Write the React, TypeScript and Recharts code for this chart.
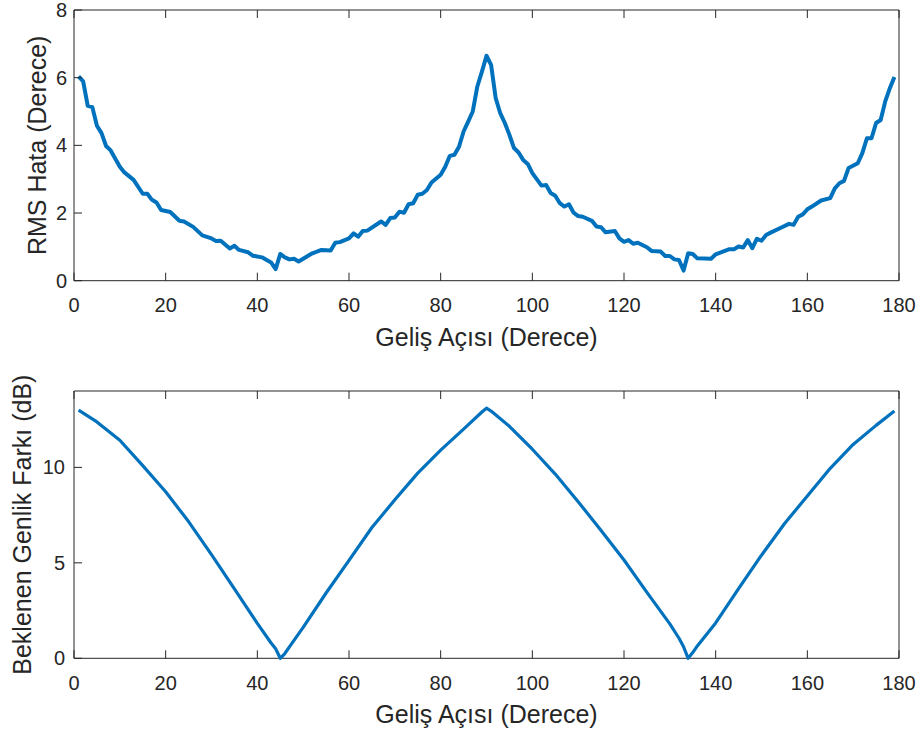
import React from "react";
import { Line, LineChart, ReferenceArea, XAxis, YAxis } from "recharts";

// incidence angles (deg) and RMS error (deg)
const rmsAngles = [
  1, 2, 3, 4, 5, 6, 7, 8, 10, 11, 13, 15, 16, 17, 18, 19, 21, 23, 24, 26, 28, 30,
  31, 32, 34, 35, 36, 38, 39, 41, 43, 44, 45, 46, 47, 48, 49, 51, 52, 54, 56, 57,
  58, 60, 61, 62, 63, 64, 67, 68, 69, 70, 71, 72, 73, 74, 75, 76, 77, 78, 80, 81,
  82, 83, 84, 85, 86, 87, 88, 89, 90, 91, 92, 93, 94, 95, 96, 97, 98, 99, 100,
  102, 103, 104, 105, 106, 107, 108, 109, 110, 111, 113, 114, 115, 116, 118, 119,
  120, 121, 122, 123, 125, 126, 128, 129, 130, 131, 132, 133, 134, 135, 136, 139,
  140, 141, 143, 144, 145, 146, 147, 148, 149, 150, 151, 152, 154, 156, 157, 158,
  159, 160, 161, 163, 165, 166, 167, 168, 169, 171, 172, 173, 174, 175, 176, 177,
  178, 179,
];
const rmsError = [
  6.04, 5.89, 5.17, 5.13, 4.58, 4.36, 3.98, 3.85, 3.37, 3.2, 2.98, 2.57, 2.57,
  2.39, 2.31, 2.09, 2.03, 1.77, 1.75, 1.59, 1.34, 1.25, 1.17, 1.18, 0.95, 1.03,
  0.91, 0.84, 0.74, 0.69, 0.54, 0.34, 0.79, 0.69, 0.63, 0.65, 0.57, 0.73, 0.81,
  0.91, 0.89, 1.12, 1.14, 1.25, 1.4, 1.3, 1.47, 1.48, 1.75, 1.65, 1.85, 1.87,
  2.04, 2.01, 2.26, 2.29, 2.54, 2.57, 2.68, 2.9, 3.13, 3.37, 3.69, 3.72, 3.96,
  4.41, 4.7, 5.0, 5.74, 6.18, 6.65, 6.38, 5.4, 4.95, 4.66, 4.31, 3.92, 3.79, 3.57,
  3.45, 3.18, 2.81, 2.83, 2.59, 2.51, 2.29, 2.19, 2.26, 2.01, 1.91, 1.89, 1.77,
  1.6, 1.58, 1.43, 1.47, 1.25, 1.15, 1.2, 1.09, 1.12, 0.99, 0.88, 0.86, 0.73,
  0.73, 0.63, 0.61, 0.3, 0.81, 0.79, 0.66, 0.65, 0.78, 0.83, 0.93, 0.93, 1.01,
  0.98, 1.2, 0.96, 1.24, 1.18, 1.35, 1.42, 1.55, 1.68, 1.65, 1.89, 1.96, 2.11,
  2.19, 2.37, 2.44, 2.73, 2.88, 2.95, 3.33, 3.47, 3.77, 4.21, 4.21, 4.66, 4.75,
  5.3, 5.69, 6.02,
];

// expected amplitude difference (dB)
const diffAngles = [
  1, 5, 10, 15, 20, 25, 30, 35, 40, 43, 44, 45, 46, 47, 50, 55, 60, 65, 70, 75,
  80, 85, 89, 90, 91, 95, 100, 105, 110, 115, 120, 125, 130, 132, 133, 134, 135,
  136, 140, 145, 150, 155, 160, 165, 170, 175, 179,
];
const diffDb = [
  13.0, 12.38, 11.42, 10.09, 8.72, 7.16, 5.43, 3.64, 1.83, 0.8, 0.5, 0, 0.25,
  0.6, 1.62, 3.42, 5.13, 6.85, 8.3, 9.7, 10.9, 12.0, 12.9, 13.1, 12.95, 12.15,
  10.95, 9.65, 8.2, 6.7, 5.15, 3.45, 1.8, 1.05, 0.6, 0, 0.3, 0.65, 1.85, 3.65,
  5.4, 7.05, 8.5, 9.95, 11.2, 12.2, 12.95,
];

const xTicks = [0, 20, 40, 60, 80, 100, 120, 140, 160, 180];
const rmsTicks = [0, 2, 4, 6, 8];
const diffTicks = [0, 5, 10];

const rmsData = rmsAngles.map((angle, i) => ({ angle, value: rmsError[i] }));
const diffData = diffAngles.map((angle, i) => ({ angle, value: diffDb[i] }));

const INK = "#262626";
const BLUE = "#0072BD";
const FONT = '"Liberation Sans", Arial, Helvetica, sans-serif';
const TICK_LEN = 8;
const PLOT_LEFT = 74;
const PLOT_RIGHT = 899;

function BottomTick({ x, y, payload, labelDy }: any) {
  return (
    <g>
      <line x1={x} y1={y} x2={x} y2={y - TICK_LEN} stroke={INK} />
      <text x={x} y={y + labelDy} textAnchor="middle" fill={INK} fontSize={20} fontFamily={FONT}>
        {payload.value}
      </text>
    </g>
  );
}

function TopTick({ x, y }: any) {
  return <line x1={x} y1={y} x2={x} y2={y + TICK_LEN} stroke={INK} />;
}

function LeftTick({ x, y, payload, labelDx }: any) {
  return (
    <g>
      <line x1={x} y1={y} x2={x + TICK_LEN} y2={y} stroke={INK} />
      <text x={x - labelDx} y={y + 7} textAnchor="end" fill={INK} fontSize={20} fontFamily={FONT}>
        {payload.value}
      </text>
    </g>
  );
}

function RightTick({ x, y }: any) {
  return <line x1={x} y1={y} x2={x - TICK_LEN} y2={y} stroke={INK} />;
}

interface PanelProps {
  data: { angle: number; value: number }[];
  yTicks: number[];
  yMax: number;
  yTitle: string;
  height: number;
  top: number;
  plotTop: number;
  plotBottom: number;
  strokeWidth: number;
  tickDy: number;
  titleDy: number;
  yTitleX: number;
  yLabelDx: number;
}

function Panel({
  data,
  yTicks,
  yMax,
  yTitle,
  height,
  top,
  plotTop,
  plotBottom,
  strokeWidth,
  tickDy,
  titleDy,
  yTitleX,
  yLabelDx,
}: PanelProps) {
  const midY = (plotTop + plotBottom) / 2;
  return (
    <div style={{ position: "absolute", left: 0, top }}>
      <LineChart
        width={921}
        height={height}
        data={data}
        margin={{
          top: plotTop - 1,
          right: 921 - PLOT_RIGHT - 1,
          bottom: height - plotBottom - 1,
          left: 0,
        }}
      >
        <XAxis
          xAxisId="bottom"
          dataKey="angle"
          type="number"
          domain={[0, 180]}
          ticks={xTicks}
          height={1}
          tickSize={0}
          tickMargin={0}
          tickLine={false}
          axisLine={false}
          interval={0}
          tick={(p: any) => <BottomTick {...p} labelDy={tickDy} />}
          label={() => (
            <text
              x={(PLOT_LEFT + PLOT_RIGHT) / 2}
              y={plotBottom + titleDy}
              textAnchor="middle"
              fill={INK}
              fontSize={25}
              fontFamily={FONT}
            >
              Geliş Açısı (Derece)
            </text>
          )}
        />
        <XAxis
          xAxisId="top"
          orientation="top"
          dataKey="angle"
          type="number"
          domain={[0, 180]}
          ticks={xTicks}
          height={1}
          tickSize={0}
          tickMargin={0}
          tickLine={false}
          axisLine={false}
          interval={0}
          tick={(p: any) => <TopTick {...p} />}
        />
        <YAxis
          yAxisId="left"
          type="number"
          domain={[0, yMax]}
          ticks={yTicks}
          width={PLOT_LEFT}
          tickSize={0}
          tickMargin={0}
          tickLine={false}
          axisLine={false}
          interval={0}
          tick={(p: any) => <LeftTick {...p} labelDx={yLabelDx} />}
          label={() => (
            <text
              x={yTitleX}
              y={midY}
              transform={`rotate(-90 ${yTitleX} ${midY})`}
              textAnchor="middle"
              fill={INK}
              fontSize={25}
              fontFamily={FONT}
            >
              {yTitle}
            </text>
          )}
        />
        <YAxis
          yAxisId="right"
          orientation="right"
          type="number"
          domain={[0, yMax]}
          ticks={yTicks}
          width={1}
          tickSize={0}
          tickMargin={0}
          tickLine={false}
          axisLine={false}
          interval={0}
          tick={(p: any) => <RightTick {...p} />}
        />
        <ReferenceArea
          xAxisId="bottom"
          yAxisId="left"
          x1={0}
          x2={180}
          y1={0}
          y2={yMax}
          fill="none"
          fillOpacity={0}
          stroke={INK}
          strokeWidth={1}
          ifOverflow="visible"
        />
        <Line
          xAxisId="bottom"
          yAxisId="left"
          type="linear"
          dataKey="value"
          stroke={BLUE}
          strokeWidth={strokeWidth}
          strokeLinejoin="round"
          dot={false}
          activeDot={false}
          isAnimationActive={false}
        />
      </LineChart>
    </div>
  );
}

export default function App() {
  return (
    <div
      style={{
        position: "absolute",
        left: 0,
        top: 0,
        width: 921,
        height: 736,
        background: "#ffffff",
        fontFamily: FONT,
      }}
    >
      <Panel
        data={rmsData}
        yTicks={rmsTicks}
        yMax={8}
        yTitle="RMS Hata (Derece)"
        height={360}
        top={0}
        plotTop={10}
        plotBottom={280.7}
        strokeWidth={4}
        tickDy={31}
        titleDy={65}
        yTitleX={46}
        yLabelDx={7}
      />
      <Panel
        data={diffData}
        yTicks={diffTicks}
        yMax={14}
        yTitle="Beklenen Genlik Farkı (dB)"
        height={376}
        top={360}
        plotTop={31}
        plotBottom={298.3}
        strokeWidth={3.2}
        tickDy={32}
        titleDy={65}
        yTitleX={31}
        yLabelDx={9}
      />
    </div>
  );
}
